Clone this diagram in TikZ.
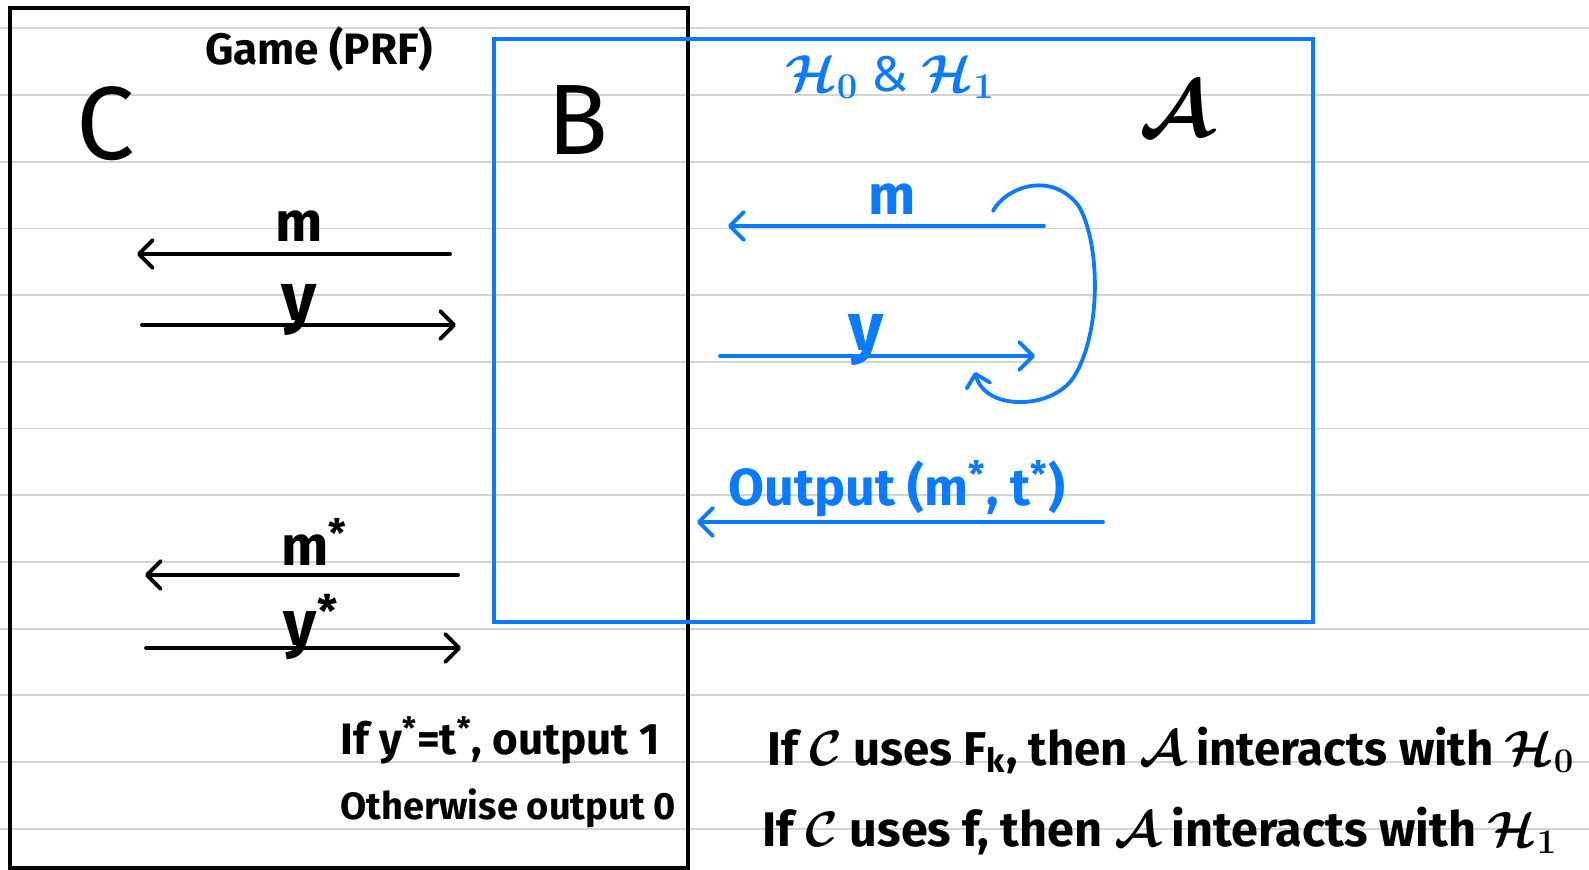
\documentclass[tikz,border=0pt]{standalone}
\usepackage{graphicx}
\usepackage{fontspec}
\setmainfont{Fira Sans}
\usetikzlibrary{arrows.meta}
\definecolor{hblue}{RGB}{10,122,255}
\definecolor{rulegray}{RGB}{212,212,212}
\newcommand{\fs}[1]{\fontsize{#1}{#1}\selectfont}
\newcommand{\st}{\textsuperscript{*}}
\tikzset{
  ruled/.style={draw=rulegray, line width=0.9pt},
  blk/.style={draw=black, line width=1.9pt, line cap=round},
  blu/.style={draw=hblue, line width=1.9pt, line cap=round},
  arr/.style={-{Straight Barb[length=7pt,width=14pt,round]}},
  txt/.style={inner sep=0pt, text=black},
  btxt/.style={inner sep=0pt, text=hblue},
}
\begin{document}
\begin{tikzpicture}[x=0.5pt,y=-0.5pt]
\useasboundingbox[fill=white] (0,0) rectangle (1589,869);
% ruled paper lines
\foreach \k in {0,...,12}{
  \draw[ruled] (0,28.3+66.7*\k) -- (1589,28.3+66.7*\k);
}
% boxes
\draw[draw=black, line width=1.6pt] (10,8) rectangle (688,868);
\draw[draw=hblue, line width=2pt] (494,39) rectangle (1313,622);

% titles
\node[txt, font=\fs{22}\bfseries] (game) at (319,49) {Game (PRF)};
\node[txt, font=\fs{52}] (C) at (106,124) {C};
\node[txt, font=\fs{50}] (B) at (578,120) {B};
\node[txt, font=\fs{24}\boldmath] (A) at (1176,109) {\scalebox{1.6}{$\mathcal{A}$}};
\node[btxt, font=\fs{24}\boldmath] (H) at (890,77) {\scalebox{1.05}{$\mathcal{H}_0$ \& $\mathcal{H}_1$}};

% left protocol arrows
\coordinate (m1s) at (450,254); \coordinate (m1e) at (137,254);
\coordinate (y1s) at (142,325); \coordinate (y1e) at (456,325);
\coordinate (m2s) at (458,575); \coordinate (m2e) at (145,575);
\coordinate (y2s) at (146,648); \coordinate (y2e) at (461,648);
\draw[blk, arr] (m1s) -- (m1e);
\draw[blk, arr] (y1s) -- (y1e);
\draw[blk, arr] (m2s) -- (m2e);
\draw[blk, arr] (y2s) -- (y2e);
\node[txt, font=\fs{28}\bfseries] (lm1) at (299,226) {m};
\node[txt, font=\fs{34}\bfseries] (ly1) at (299,310) {y};
\node[txt, font=\fs{28}\bfseries] (lm2) at (314,542) {m\st};
\node[txt, font=\fs{32}\bfseries] (ly2) at (311,627) {y\st};

% right (blue) arrows
\coordinate (m3s) at (1044,226); \coordinate (m3e) at (728,226);
\coordinate (y3s) at (720,356); \coordinate (y3e) at (1035,356);
\coordinate (o3s) at (1103,522); \coordinate (o3e) at (697,522);
\draw[blu, arr] (m3s) -- (m3e);
\draw[blu, arr] (y3s) -- (y3e);
\draw[blu, arr] (o3s) -- (o3e);
\node[btxt, font=\fs{28}\bfseries] (lm3) at (892,199) {m};
\node[btxt, font=\fs{34}\bfseries] (ly3) at (866,340) {y};
\node[btxt, font=\fs{26}\bfseries] (lo3) at (897,489) {Output (m\st, t\st)};

% loop curve
\coordinate (ls) at (993,211);
\coordinate (le) at (975,372);
\draw[blu, -{Straight Barb[length=6pt,width=12pt,round]}] (ls) .. controls (1005,188) and (1050,170) .. (1078,205)
  .. controls (1100,240) and (1102,330) .. (1075,375)
  .. controls (1055,410) and (985,412) .. (le);

% bottom texts
\node[txt, font=\fs{22}\bfseries, anchor=west] (r1) at (340,740) {If y\st=t\st, output 1};
\node[txt, font=\fs{19}\bfseries, anchor=west] (r2) at (340,808) {Otherwise output 0};
\node[txt, font=\fs{23.7}\bfseries\boldmath, anchor=west] (s1) at (767,750) {If $\mathcal{C}$ uses F\textsubscript{k}, then $\mathcal{A}$ interacts with $\mathcal{H}_0$};
\node[txt, font=\fs{24.3}\bfseries\boldmath, anchor=west] (s2) at (762,831) {If $\mathcal{C}$ uses f, then $\mathcal{A}$ interacts with $\mathcal{H}_1$};
\end{tikzpicture}
\end{document}
